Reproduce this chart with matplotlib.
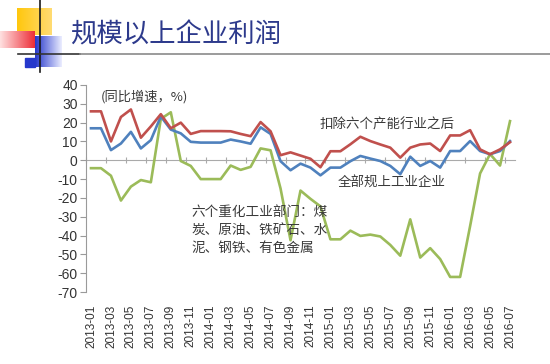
import numpy as np
import pandas as pd
import matplotlib
matplotlib.use("Agg")
import matplotlib.pyplot as plt

plt.rcParams['font.family'] = ['Liberation Sans', 'Noto Sans CJK SC', 'DejaVu Sans']
plt.rcParams['axes.unicode_minus'] = False

# --- data (profit growth, yoy %) ---
months = [str(p) for p in pd.period_range('2013-01', '2016-07', freq='M')]

ex_six = [26, 26, 10, 23, 27, 12, 18, 24.5, 17, 20, 14, 15.5,
          15.5, 15.5, 15.4, 14, 12.8, 20.3, 15.4, 2.7, 4.2, 2.5, 0.8, -3.7,
          4.8, 4.8, 8.5, 12.5, 10.2, 8.4, 6.7, 1.4, 6.7, 8.4, 8.9, 4.9,
          13.2, 13.2, 16, 5.8, 3.2, 5.8, 9.6]

all_ind = [17, 17, 5.4, 8.9, 15.1, 6.3, 10.7, 23.3, 16.3, 14.3, 9.8, 9.4,
           9.4, 9.4, 11, 10, 8.8, 17.5, 14, -0.5, -5.3, -1.8, -3.9, -8,
           -3.9, -3.9, -0.5, 2.3, 0.9, -0.4, -3, -7.4, 1.9, -3, -0.4, -3.9,
           4.9, 4.9, 10.2, 4.9, 3.2, 4.9, 10.2]

heavy_six = [-4.2, -4.2, -8.2, -21.4, -14, -10.5, -11.7, 22, 25.5, -0.4, -3, -10,
             -10, -10, -2.8, -5.1, -3.5, 6.3, 5.3, -15, -42.5, -16.1, -20.5, -24.5,
             -42, -42, -37.4, -40.2, -39.5, -40.5, -45, -50.7, -31.4, -51.7, -46.7, -52.5,
             -62, -62, -35, -7, 3.3, -2.8, 20.8]

tick_idx = list(range(0, len(months), 2))
yticks = list(range(-70, 41, 10))

RED = '#c0504d'
BLUE = '#4f81bd'
GREEN = '#9bbb59'
TXT = '#3a3a3a'

fig = plt.figure(figsize=(5.5, 3.64), dpi=100)

# --- header decoration (pixel coords) ---
deco = fig.add_axes([0, 0, 1, 1], zorder=-1)
deco.set_xlim(0, 550)
deco.set_ylim(364, 0)
deco.axis('off')


def grad(x0, x1, y0, y1, c_left, c_right):
    t = np.linspace(0, 1, 64)[None, :, None]
    a = np.array(c_left)[None, None, :]
    b = np.array(c_right)[None, None, :]
    img = a * (1 - t) + b * t
    deco.imshow(img, extent=(x0, x1, y1, y0), aspect='auto', interpolation='bilinear')


grad(17, 52, 8, 35, (1.0, 0.78, 0.05, 1.0), (1.0, 0.86, 0.45, 1.0))
grad(0, 35, 31, 48, (1.0, 0.88, 0.88, 1.0), (0.93, 0.18, 0.22, 1.0))
grad(35, 62, 36, 67, (0.15, 0.22, 0.80, 1.0), (0.92, 0.93, 1.0, 1.0))
deco.add_patch(plt.Rectangle((25, 58), 10, 9, color=(0.15, 0.22, 0.80)))
deco.plot([40, 40], [0, 72], color='#1a1a1a', lw=1.2)
deco.plot([18, 80], [53.5, 53.5], color='#333333', lw=1.2)
deco.plot([80, 550], [53.5, 53.5], color='#8a8a8a', lw=1.2)
deco.set_xlim(0, 550)
deco.set_ylim(364, 0)

fig.text(70 / 550, 1 - 35 / 364, '规模以上企业利润', fontsize=19, color='#2d3a8c',
         family=['Noto Sans CJK SC'], ha='left', va='center')

# --- chart ---
ax = fig.add_axes([86 / 550, 1 - 292 / 364, (515 - 86) / 550, (292 - 85) / 364])
ax.patch.set_alpha(0)
x = np.arange(len(months))
ax.plot(x, heavy_six, color=GREEN, lw=1.9, zorder=3)
ax.plot(x, all_ind, color=BLUE, lw=1.9, zorder=4)
ax.plot(x, ex_six, color=RED, lw=1.9, zorder=5)

ax.set_xlim(-0.5, len(months) - 0.5)
ax.set_ylim(-70, 40)
for s in ['top', 'right', 'bottom']:
    ax.spines[s].set_visible(False)
ax.spines['left'].set_color('#9a9a9a')
ax.set_yticks(yticks)
ax.tick_params(axis='y', length=4, color='#9a9a9a', labelsize=10, labelcolor='#333333', pad=2)
ax.set_xticks(tick_idx)
ax.set_xticklabels([months[i] for i in tick_idx], rotation=90)
ax.tick_params(axis='x', length=0, labelsize=8.5, labelcolor='#333333', pad=9)

# zero line with category-boundary ticks
sec = ax.secondary_xaxis(70 / 110)
sec.set_xticks([i - 0.5 for i in tick_idx])
sec.tick_params(direction='inout', length=4, color='#aaaaaa', labeltop=False, labelbottom=False)
sec.spines['top'].set_color('#aaaaaa')
sec.spines['bottom'].set_visible(False)

cjk = ['Noto Sans CJK SC']
ax.text(1.0, 33.7, '(同比增速，%)', fontsize=9.5, color=TXT, family=cjk, ha='left', va='center')
ax.text(22.9, 19, '扣除六个产能行业之后', fontsize=9.7, color=TXT, family=cjk, ha='left', va='center')
ax.text(24.7, -12.1, '全部规上工业企业', fontsize=9.7, color=TXT, family=cjk, ha='left', va='center')
heavy_lines = ['六个重化工业部门：煤', '炭、原油、铁矿石、水', '泥、钢铁、有色金属']
for k, line in enumerate(heavy_lines):
    ax.text(10.1, -27.4 - 9.5 * k, line, fontsize=9.8, color=TXT, family=cjk, ha='left', va='center')

fig.savefig('out.png', dpi=100)
